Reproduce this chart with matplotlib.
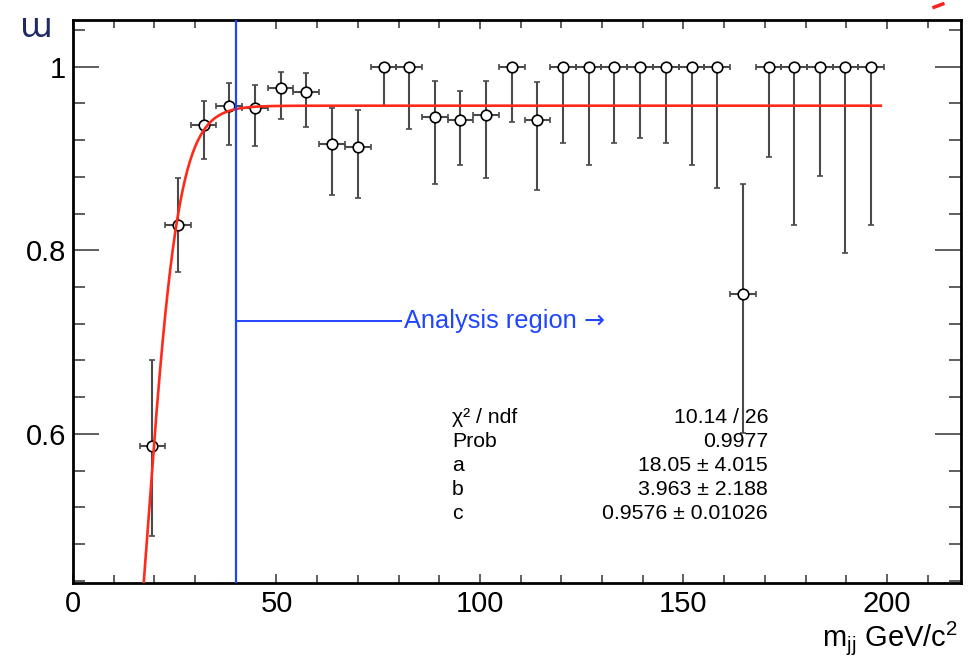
import numpy as np
import matplotlib
matplotlib.use("Agg")
import matplotlib.pyplot as plt
from matplotlib.ticker import MultipleLocator
from matplotlib.lines import Line2D

plt.rcParams['font.family'] = ['Liberation Sans', 'DejaVu Sans']
plt.rcParams['mathtext.fontset'] = 'custom'
plt.rcParams['mathtext.rm'] = 'Liberation Sans'
plt.rcParams['mathtext.it'] = 'Liberation Sans'

# efficiency points (bin centre, value, lower edge, upper edge)
mjj = [19.5, 25.8, 32.1, 38.4, 44.7, 51.0, 57.3, 63.7, 70.0, 76.3,
       82.6, 88.9, 95.2, 101.5, 107.8, 114.1, 120.4, 126.7, 133.0, 139.4,
       145.7, 152.0, 158.3, 164.6, 170.9, 177.2, 183.5, 189.8, 196.1]
eff = [0.587, 0.828, 0.937, 0.957, 0.955, 0.977, 0.973, 0.916, 0.913, 1.0,
       1.0, 0.945, 0.942, 0.948, 1.0, 0.942, 1.0, 1.0, 1.0, 1.0,
       1.0, 1.0, 1.0, 0.752, 1.0, 1.0, 1.0, 1.0, 1.0]
eff_lo = [0.489, 0.776, 0.900, 0.915, 0.914, 0.943, 0.934, 0.860, 0.857, 0.957,
          0.932, 0.872, 0.893, 0.879, 0.940, 0.866, 0.917, 0.893, 0.917, 0.922,
          0.917, 0.893, 0.868, 0.601, 0.902, 0.828, 0.881, 0.797, 0.828]
eff_hi = [0.680, 0.879, 0.963, 0.982, 0.980, 0.994, 0.993, 0.955, 0.953, 1.0,
          1.0, 0.984, 0.974, 0.985, 1.0, 0.983, 1.0, 1.0, 1.0, 1.0,
          1.0, 1.0, 1.0, 0.872, 1.0, 1.0, 1.0, 1.0, 1.0]
bin_half = 3.15

# fit parameters
a, b, c = 18.05, 3.963, 0.9576
fit_range = (15.0, 198.5)
stat_names = ['χ² / ndf', 'Prob', 'a', 'b', 'c']
stat_vals = ['10.14 / 26', '0.9977', '18.05 ± 4.015', '3.963 ± 2.188', '0.9576 ± 0.01026']

cut = 40.0

fig = plt.figure(figsize=(9.71, 6.57), dpi=100)
ax = fig.add_axes([0.0752, 0.1126, 0.9145, 0.857])

eff = np.array(eff)
yerr = [eff - np.array(eff_lo), np.array(eff_hi) - eff]
ax.errorbar(mjj, eff, yerr=yerr, xerr=bin_half, fmt='o', color='#4a4a4a',
            ecolor='#4a4a4a', elinewidth=1.5, capsize=2.2, capthick=1.2,
            markersize=7.6, markerfacecolor='white', markeredgecolor='black',
            markeredgewidth=1.2, zorder=3)

xf = np.linspace(fit_range[0], fit_range[1], 600)
ax.plot(xf, c / (1 + np.exp(-(xf - a) / b)), color='#ff2a1a', lw=1.9, zorder=4)

ax.axvline(cut, color='#1f45ff', lw=1.6, zorder=5)
ax.plot([cut, 80.5], [0.723, 0.723], color='#1f45ff', lw=1.4, zorder=5)
t = ax.text(81.3, 0.723, 'Analysis region', color='#1f45ff', fontsize=18.3,
            va='center', ha='left')
ax.annotate('→', xy=(1, 0.5), xycoords=t, xytext=(5, 0),
            textcoords='offset points', color='#1f45ff', fontsize=18,
            va='center', ha='left', family=['DejaVu Sans'])

for i, (n, v) in enumerate(zip(stat_names, stat_vals)):
    yy = 0.618 - i * 0.0263
    ax.text(93.1, yy, n, fontsize=15.3, va='center', ha='left')
    ax.text(170.8, yy, v, fontsize=15.3, va='center', ha='right')

ax.set_xlim(0, 218.2)
ax.set_ylim(0.4375, 1.051)
ax.set_xticks([0, 50, 100, 150, 200])
ax.xaxis.set_minor_locator(MultipleLocator(10))
ax.set_yticks([0.6, 0.8, 1.0])
ax.set_yticklabels(['0.6', '0.8', '1'])
ax.yaxis.set_minor_locator(MultipleLocator(0.04))
ax.tick_params(which='both', direction='in', top=True, right=True,
               labelsize=21, color='#333333', width=1.1)
ax.tick_params(axis='y', which='major', length=18.5, pad=5)
ax.tick_params(axis='y', which='minor', length=8.6)
ax.tick_params(axis='x', which='major', length=6.5, pad=5)
ax.tick_params(axis='x', which='minor', length=6)
for s in ax.spines.values():
    s.set_linewidth(2.0)

fig.text(0.021, 0.984, 'ɯ', fontsize=24, color='#1e2a66', va='top', ha='left',
         family=['DejaVu Sans'])
fig.text(0.987, 0.017, r'm$_{\rm jj}$ GeV/c$^{2}$', fontsize=21,
         ha='right', va='baseline')

fig.add_artist(Line2D([0.962, 0.971], [0.989, 0.994], transform=fig.transFigure,
                      color='#ff2020', lw=2.5))

fig.savefig('out.png', dpi=100)
